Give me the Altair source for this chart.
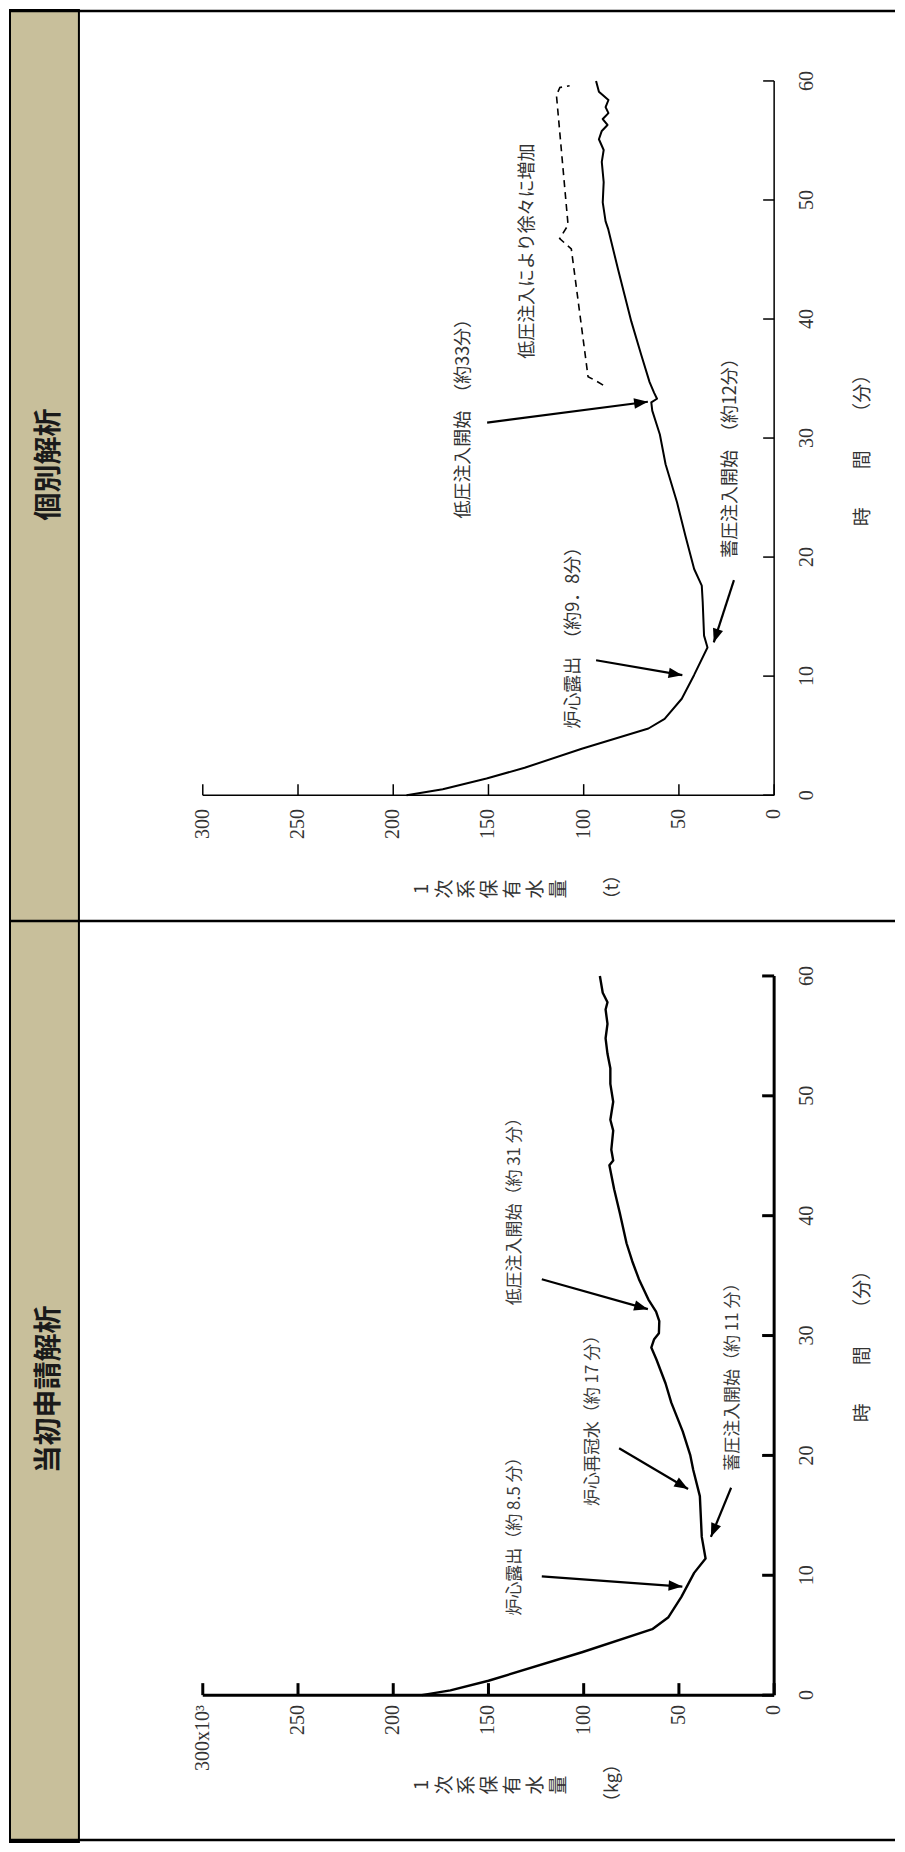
import math
import altair as alt
import pandas as pd

# ---------------- values ----------------
value_ticks = [0, 50, 100, 150, 200, 250, 300]
time_ticks = [0, 10, 20, 30, 40, 50, 60]
top_value_labels = ["0", "50", "100", "150", "200", "250", "300"]
bot_value_labels = ["0", "50", "100", "150", "200", "250", "300x10³"]
time_labels = ["0", "10", "20", "30", "40", "50", "60"]
headers = ["個別解析", "当初申請解析"]
value_title_chars = ["1", "次", "系", "保", "有", "水", "量"]
time_title = "時　　間　　（分）"
units = ["（t）", "（kg）"]

# 個別解析 (top panel): time [min], primary water inventory [t]
top_time = [0, 0.5, 1.4, 2.3, 3.9, 5.6, 6.4, 8.1, 10.1, 12.4,
            13.4, 16.2, 17.6, 19.0, 21.8, 24.6, 27.8, 30.3, 32.3, 33.0,
            33.3, 33.8, 34.7, 37.0, 39.8, 42.0, 44.2, 47.6, 48.2, 49.8,
            51.5, 53.2, 54.2, 55.1, 55.8, 56.3, 56.8, 57.3, 57.8, 58.4,
            59.1, 60.0]
top_water = [193, 174, 151, 131, 101, 66, 57.5, 48.5, 42, 35,
             36.8, 37.5, 38, 42, 46.6, 51, 57, 60, 64, 64.5,
             61.5, 63, 65.4, 69.8, 75, 78.5, 82, 87.2, 88.5, 90,
             89.5, 90.5, 89.5, 92, 90.5, 87.5, 90, 87, 88.5, 87,
             92, 93.5]
top_bracket_time = [34.45, 34.8, 35.15, 45.9, 46.75, 47.9, 58.8, 59.45, 59.6]
top_bracket_water = [89.8, 93.5, 97.7, 106.5, 112.6, 108.2, 114.3, 112.5, 107.4]
top_arrow_tail_time = [11.33, 18.07, 31.3]
top_arrow_tail_water = [93.5, 21.1, 150.7]
top_arrow_head_time = [10.08, 12.83, 33.05]
top_arrow_head_water = [48.2, 31.7, 66.3]
top_note_text = ["炉心露出　（約9．8分）", "低圧注入開始　（約33分）",
                 "低圧注入により徐々に増加", "蓄圧注入開始　（約12分）"]
top_note_time = [13.6, 32.0, 45.7, 28.7]
top_note_water = [105, 163, 129, 22.6]

# 当初申請解析 (bottom panel): time [min], primary water inventory [10^3 kg]
bot_time = [0, 0.4, 1.2, 3.6, 5.5, 6.5, 8.2, 10.2, 11.4, 13.2,
            16.6, 18.8, 20.0, 22.0, 24.4, 26.0, 28.0, 29.0, 29.7, 30.2,
            31.2, 32.0, 33.0, 34.7, 36.2, 37.7, 40.2, 42.2, 44.2, 44.6,
            45.5, 47.1, 48.0, 49.5, 51.0, 52.3, 53.5, 54.8, 56.0, 57.2,
            57.8, 58.6, 60.0]
bot_water = [185, 170, 150, 100.5, 64, 55.5, 48.7, 42, 36, 38,
             39, 42.5, 44, 48, 54, 57, 61.8, 64.5, 63, 60.5,
             60.3, 62, 66, 71, 74.5, 77.5, 81, 84, 86.5, 84.5,
             85.5, 84.5, 86, 84.5, 86, 86, 87.5, 88.5, 87.5, 88.5,
             87.5, 90, 91.5]
bot_arrow_tail_time = [9.9, 20.6, 17.3, 34.7]
bot_arrow_tail_water = [122, 81.4, 22.6, 122]
bot_arrow_head_time = [9.06, 17.2, 13.2, 32.2]
bot_arrow_head_water = [48.2, 45.2, 33.2, 66.3]
bot_note_text = ["炉心露出（約 8.5 分）", "炉心再冠水（約 17 分）",
                 "蓄圧注入開始（約 11 分）", "低圧注入開始（約 31 分）"]
bot_note_time = [13.6, 23.25, 26.9, 40.7]
bot_note_water = [136, 95, 21.7, 136]

# ---------------- styling / layout ----------------
CJK = "Noto Sans CJK JP"
SERIF = "Liberation Serif"
TAN = "#C8BF9B"
TXT = "#333333"
W = 886
X_RANGE = [765, 193]
PXW = (X_RANGE[0] - X_RANGE[1]) / 300.0
HEAD_PATH = "M0,0L0.38,1L-0.38,1Z"
one = pd.DataFrame({"k": [0]})


def arrow_frame(tt, tv, ht, hv, pxt):
    rows = []
    for a, b, c, d in zip(tt, tv, ht, hv):
        dx = -(d - b) * PXW
        dy = -(c - a) * pxt
        ang = math.degrees(math.atan2(dx, -dy)) % 360
        rows.append(dict(t0=a, v0=b, t1=c, v1=d, ang=ang))
    return pd.DataFrame(rows)


def build_panel(H, y_range, header, header_y, curve_t, curve_v, arrows, notes,
                note_font, note_color, unit, title_y, time_title_y, axis_w,
                line_w, tick_len, vlab_pad, value_labels, border_rows, bracket=None):
    xs = alt.Scale(domain=[0, 300], range=X_RANGE, nice=False, zero=False)
    ys = alt.Scale(domain=[0, 60], range=y_range, nice=False, zero=False)
    pxt = (y_range[0] - y_range[1]) / 60.0

    def X(f):
        return alt.X(f, scale=xs, axis=None)

    def Y(f):
        return alt.Y(f, scale=ys, axis=None)

    header_bg = alt.Chart(one).mark_rect(fill=TAN, stroke="black", strokeWidth=2).encode(
        x=alt.value(0), x2=alt.value(69), y=alt.value(0), y2=alt.value(H))
    header_txt = alt.Chart(one).mark_text(angle=270, font=CJK, fontSize=28, fontWeight="bold",
                                          color="#1a1a1a", align="center", baseline="middle").encode(
        x=alt.value(40), y=alt.value(header_y), text=alt.value(header))
    borders = alt.Chart(pd.DataFrame({"py": border_rows})).mark_rule(
        color="black", strokeWidth=2.5).encode(
        x=alt.value(0), x2=alt.value(W), y=alt.Y("py:Q", scale=None))

    # axis lines
    vdom = alt.Chart(pd.DataFrame({"v0": [0], "v1": [300], "t": [0]})).mark_rule(
        color="black", strokeWidth=axis_w).encode(x=X("v0:Q"), x2="v1:Q", y=Y("t:Q"))
    tdom = alt.Chart(pd.DataFrame({"t0": [0], "t1": [60], "v": [0]})).mark_rule(
        color="black", strokeWidth=axis_w).encode(y=Y("t0:Q"), y2="t1:Q", x=X("v:Q"))
    # inward ticks
    vt = alt.Chart(pd.DataFrame({"water": value_ticks})).mark_rule(
        color="black", strokeWidth=axis_w).encode(
        x=X("water:Q"), y=alt.value(y_range[0]), y2=alt.value(y_range[0] - tick_len))
    tt = alt.Chart(pd.DataFrame({"time": time_ticks})).mark_rule(
        color="black", strokeWidth=axis_w).encode(
        y=Y("time:Q"), x=alt.value(X_RANGE[0]), x2=alt.value(X_RANGE[0] - tick_len))
    # tick labels
    vlab = alt.Chart(pd.DataFrame({"water": value_ticks, "lab": value_labels})).mark_text(
        angle=270, align="right", baseline="middle", font=SERIF, fontSize=20, color=TXT).encode(
        x=X("water:Q"), y=alt.value(y_range[0] + vlab_pad), text="lab:N")
    tlab = alt.Chart(pd.DataFrame({"time": time_ticks, "lab": time_labels})).mark_text(
        angle=270, align="center", baseline="top", font=SERIF, fontSize=20, color=TXT).encode(
        y=Y("time:Q"), x=alt.value(X_RANGE[0] + 23), text="lab:N")

    curve = pd.DataFrame({"time": curve_t, "water": curve_v, "idx": list(range(len(curve_t)))})
    line = alt.Chart(curve).mark_line(color="black", strokeWidth=line_w, strokeJoin="round").encode(
        x=X("water:Q"), y=Y("time:Q"), order=alt.Order("idx:Q"))

    adf = arrow_frame(*arrows, pxt)
    shaft = alt.Chart(adf).mark_rule(color="black", strokeWidth=2.2).encode(
        x=X("v0:Q"), y=Y("t0:Q"), x2="v1:Q", y2="t1:Q")
    head = alt.Chart(adf).mark_point(shape=HEAD_PATH, filled=True, color="black", opacity=1,
                                     size=760, strokeWidth=0).encode(
        x=X("v1:Q"), y=Y("t1:Q"), angle=alt.Angle("ang:Q", scale=None))

    ndf = pd.DataFrame({"label": notes[0], "time": notes[1], "water": notes[2]})
    note = alt.Chart(ndf).mark_text(angle=270, align="center", baseline="middle", font=CJK,
                                    fontSize=note_font, color=note_color).encode(
        x=X("water:Q"), y=Y("time:Q"), text="label:N")

    # value-axis title: vertical Japanese writing, turned with the chart
    cdf = pd.DataFrame({"ch": value_title_chars, "i": list(range(len(value_title_chars)))})
    vtitle = alt.Chart(cdf).transform_calculate(px="412 + 23 * datum.i").mark_text(
        angle=270, font=CJK, fontSize=19, color=TXT, align="center", baseline="middle").encode(
        x=alt.X("px:Q", scale=None), y=alt.value(title_y), text="ch:N")
    unit_txt = alt.Chart(one).mark_text(angle=270, font=CJK, fontSize=18, color=TXT,
                                        align="center", baseline="middle").encode(
        x=alt.value(604), y=alt.value(title_y - 2), text=alt.value(unit))
    ttitle = alt.Chart(one).mark_text(angle=270, font=CJK, fontSize=19, color=TXT,
                                      align="center", baseline="middle").encode(
        x=alt.value(854), y=alt.value(time_title_y), text=alt.value(time_title))

    layers = [header_bg, header_txt, borders, vdom, tdom, vt, tt, vlab, tlab]
    if bracket is not None:
        bdf = pd.DataFrame({"time": bracket[0], "water": bracket[1],
                            "idx": list(range(len(bracket[0])))})
        layers.append(alt.Chart(bdf).mark_line(color="black", strokeWidth=1.6,
                                               strokeDash=[7, 5]).encode(
            x=X("water:Q"), y=Y("time:Q"), order=alt.Order("idx:Q")))
    layers += [line, shaft, head, note, vtitle, unit_txt, ttitle]
    return alt.layer(*layers).properties(width=W, height=H)


top = build_panel(
    H=912, y_range=[786, 71], header=headers[0], header_y=455,
    curve_t=top_time, curve_v=top_water,
    arrows=(top_arrow_tail_time, top_arrow_tail_water, top_arrow_head_time, top_arrow_head_water),
    notes=(top_note_text, top_note_time, top_note_water),
    note_font=18, note_color=TXT, unit=units[0], title_y=880, time_title_y=436,
    axis_w=1.5, line_w=2, tick_len=11, vlab_pad=14, value_labels=top_value_labels,
    border_rows=[1], bracket=(top_bracket_time, top_bracket_water))

bottom = build_panel(
    H=922, y_range=[775, 55], header=headers[1], header_y=469,
    curve_t=bot_time, curve_v=bot_water,
    arrows=(bot_arrow_tail_time, bot_arrow_tail_water, bot_arrow_head_time, bot_arrow_head_water),
    notes=(bot_note_text, bot_note_time, bot_note_water),
    note_font=17, note_color="#3a3a3a", unit=units[1], title_y=865, time_title_y=421,
    axis_w=3, line_w=2.4, tick_len=12, vlab_pad=10, value_labels=bot_value_labels,
    border_rows=[0, 920])

chart = alt.vconcat(top, bottom, spacing=0, bounds="flush").properties(
    padding=0, background="white"
).configure_view(strokeWidth=0, stroke=None)

chart.save("out.html", embed_options={"renderer": "svg", "actions": False})
